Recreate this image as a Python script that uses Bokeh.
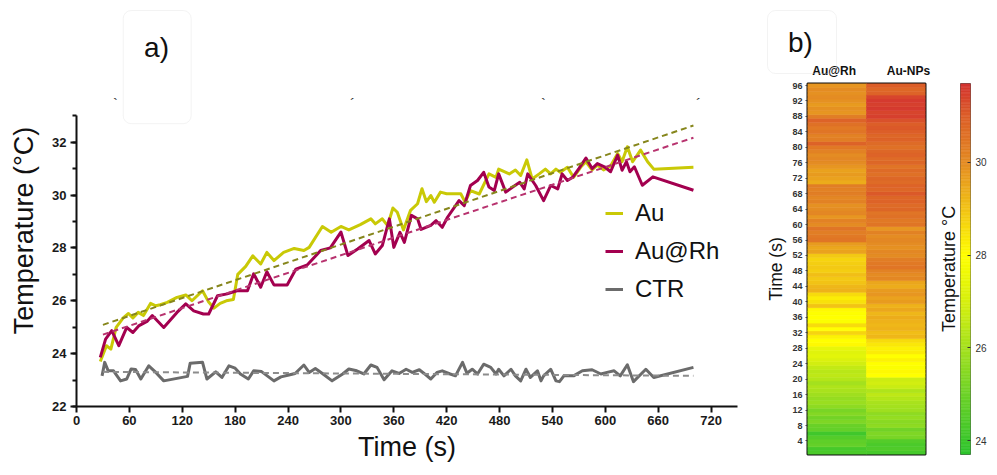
import numpy as np
from bokeh.plotting import figure
from bokeh.layouts import row, column
from bokeh.core.properties import value
from bokeh.models import (Range1d, SingleIntervalTicker, FixedTicker, Legend, LegendItem,
                          LinearColorMapper, LinearAxis, ColumnDataSource, BoxAnnotation)
from bokeh.embed import file_html
from bokeh.resources import INLINE

FONT = "Liberation Sans"

# ---------------- panel a) data (time s, temperature degC) ----------------
t_au = [27, 34, 39, 45, 53, 59, 64, 70, 76, 84, 90, 95, 103, 114, 124, 131, 143, 150, 156, 163,
        170, 178, 183, 192, 200, 209, 216, 224, 235, 247, 258, 264, 279, 289, 300, 309, 322, 334,
        339, 347, 353, 359, 364, 371, 379, 387, 392, 397, 402, 406, 413, 420, 430, 436, 441, 447,
        457, 468, 476, 479, 491, 498, 504, 511, 517, 525, 532, 538, 544, 549, 557, 564, 572, 578,
        585, 591, 598, 606, 614, 619, 625, 631, 640, 648, 655, 700]
T_au = [23.70, 24.30, 24.17, 24.99, 25.35, 25.52, 25.35, 25.56, 25.44, 25.90, 25.81, 25.85, 25.94,
        26.13, 26.22, 26.00, 26.38, 25.95, 25.72, 25.90, 26.00, 26.05, 27.00, 27.30, 27.70, 27.39,
        27.83, 27.52, 27.83, 27.98, 27.90, 28.02, 28.81, 28.59, 28.81, 28.68, 28.88, 29.10, 28.91,
        29.10, 28.84, 29.51, 29.35, 28.68, 29.42, 29.67, 30.24, 29.75, 29.98, 29.73, 30.11, 30.05,
        30.05, 30.05, 29.73, 30.17, 30.04, 30.80, 30.67, 30.98, 30.80, 30.95, 30.74, 31.33, 30.61,
        30.80, 30.98, 30.80, 30.98, 30.86, 31.05, 30.67, 31.05, 31.26, 30.95, 31.13, 30.95, 31.10,
        31.57, 31.26, 31.83, 31.26, 31.70, 31.26, 30.98, 31.05]

t_rh = [27, 33, 40, 48, 57, 64, 71, 80, 86, 99, 114, 124, 133, 144, 150, 160, 171, 182, 194, 201,
        209, 216, 224, 239, 249, 262, 277, 288, 300, 308, 319, 332, 339, 347, 355, 360, 367, 372,
        380, 387, 391, 402, 408, 415, 421, 434, 440, 447, 455, 462, 468, 474, 479, 487, 495, 503,
        508, 512, 521, 530, 538, 546, 551, 557, 563, 570, 578, 585, 591, 599, 606, 614, 619, 624,
        628, 633, 642, 654, 700]
T_rh = [23.86, 24.55, 24.87, 24.30, 24.99, 24.80, 25.06, 25.22, 25.44, 24.99, 25.56, 25.88, 25.62,
        25.50, 25.50, 26.19, 26.26, 26.38, 26.38, 27.02, 26.51, 27.10, 26.60, 26.60, 27.20, 27.36,
        27.90, 28.00, 28.60, 27.71, 27.96, 28.28, 27.77, 28.09, 29.10, 28.02, 28.59, 28.21, 29.23,
        29.10, 28.70, 28.85, 29.03, 28.78, 29.16, 29.79, 29.60, 30.36, 30.55, 30.86, 30.30, 30.17,
        30.80, 30.11, 30.30, 30.48, 30.23, 30.80, 30.36, 29.79, 30.36, 30.23, 30.80, 30.55, 30.67,
        31.00, 31.40, 31.00, 31.19, 31.07, 30.88, 31.51, 30.94, 31.26, 30.88, 31.07, 30.37, 30.69,
        30.18]

t_ctr = [29, 32, 36, 42, 50, 57, 62, 67, 73, 82, 90, 99, 126, 129, 143, 148, 158, 165, 173, 180,
         186, 195, 201, 210, 224, 232, 241, 248, 258, 264, 271, 279, 290, 302, 309, 318, 326, 334,
         341, 349, 358, 366, 374, 381, 389, 394, 402, 409, 415, 424, 430, 438, 443, 449, 455, 462,
         470, 476, 479, 485, 493, 498, 504, 510, 515, 523, 527, 530, 538, 544, 548, 553, 564, 574,
         585, 595, 602, 610, 617, 625, 632, 646, 655, 700]
T_ctr = [23.16, 23.67, 23.35, 23.35, 22.97, 23.04, 23.42, 23.40, 23.04, 23.54, 23.29, 22.97, 23.14,
         23.64, 23.67, 23.04, 23.31, 23.10, 23.54, 23.45, 23.23, 23.04, 23.35, 23.32, 22.97, 23.12,
         23.19, 23.25, 23.57, 23.29, 23.44, 23.25, 22.97, 23.23, 23.42, 23.35, 23.23, 23.57, 23.48,
         23.01, 23.35, 23.25, 23.41, 23.29, 23.39, 23.26, 23.04, 23.29, 23.35, 23.23, 23.16, 23.67,
         23.26, 23.41, 23.23, 23.60, 23.48, 23.23, 23.41, 23.16, 23.41, 23.16, 22.97, 23.41, 23.10,
         23.35, 22.97, 23.16, 23.41, 22.97, 22.94, 23.16, 23.16, 23.35, 23.39, 23.23, 23.29, 23.35,
         23.16, 23.58, 22.94, 23.41, 23.10, 23.48]

# linear-fit lines (endpoints)
fit_t = [30, 700]
fit_au = [25.09, 32.63]
fit_rh = [24.72, 32.17]
fit_ctr = [23.31, 23.16]

x_ticks_step = 60
y_ticks_step = 2

# ---------------- panel b) heat-map data ----------------
heat_rows = list(range(1, 97))
heat_cols = ["Au@Rh", "Au-NPs"]
heat_aurh = [24.3, 24.2, 24.8, 24.7, 24.5, 24.1, 24.8, 24.9, 25.3, 25.1,
             25.4, 25.2, 25.6, 25.8, 25.7, 25.9, 26.1, 26.2, 26.0, 26.3,
             26.5, 26.4, 26.6, 26.9, 27.1, 27.3, 27.2, 27.4, 28.1, 28.0,
             28.2, 28.7, 28.0, 28.6, 27.9, 28.0, 27.95, 28.1, 29.0, 28.5,
             28.3, 28.6, 29.3, 29.2, 29.0, 28.9, 29.1, 28.8, 28.9, 28.8,
             28.7, 28.9, 29.6, 29.5, 29.7, 30.5, 30.4, 30.3, 30.5, 30.0,
             30.2, 29.8, 30.1, 30.0, 29.9, 30.2, 30.1, 30.3, 30.2, 30.3,
             29.4, 29.6, 29.7, 29.6, 29.8, 30.0, 30.1, 30.0, 30.2, 30.4,
             30.9, 30.3, 30.2, 30.5, 30.4, 30.6, 30.9, 30.3, 29.8, 29.9,
             29.7, 29.9, 30.0, 29.9, 30.0, 29.8]
heat_aunp = [24.2, 24.4, 24.3, 24.5, 25.2, 25.3, 25.1, 25.6, 25.5, 25.7,
             25.6, 25.9, 26.0, 26.1, 26.3, 26.5, 26.2, 26.7, 26.9, 26.8,
             28.0, 28.1, 27.9, 28.0, 28.2, 28.0, 28.3, 28.2, 28.4, 28.6,
             29.2, 29.1, 29.3, 29.2, 29.3, 29.4, 29.2, 29.5, 29.3, 29.7,
             29.6, 29.8, 29.7, 29.4, 29.5, 30.1, 30.0, 30.2, 30.5, 30.4,
             30.3, 30.0, 30.1, 29.9, 30.0, 30.1, 30.0, 30.2, 29.8, 30.5,
             30.4, 30.6, 30.5, 30.8, 30.7, 30.9, 30.8, 31.1, 30.8, 30.9,
             30.7, 30.8, 30.6, 30.7, 30.5, 30.8, 30.7, 30.9, 30.8, 30.6,
             30.7, 30.9, 30.8, 31.0, 31.1, 31.0, 31.2, 31.5, 31.4, 31.6,
             31.5, 31.6, 31.4, 30.9, 30.8, 31.0]
cbar_low, cbar_high = 23.7, 31.7
cbar_ticks = [24, 26, 28, 30]
heat_ticks_step = 4

# ---------------- colour map (green-yellow-orange-red) ----------------
anchors_v = [23.7, 25.0, 26.0, 27.0, 28.0, 29.0, 30.0, 31.0, 31.7]
anchors_c = [(45, 195, 45), (110, 210, 40), (165, 225, 30), (215, 240, 15), (255, 255, 0),
             (242, 195, 22), (228, 140, 35), (220, 95, 40), (212, 52, 48)]
vals = np.linspace(cbar_low, cbar_high, 256)
palette = []
for v in vals:
    r = np.interp(v, anchors_v, [c[0] for c in anchors_c])
    g = np.interp(v, anchors_v, [c[1] for c in anchors_c])
    b = np.interp(v, anchors_v, [c[2] for c in anchors_c])
    palette.append("#%02x%02x%02x" % (int(round(r)), int(round(g)), int(round(b))))
mapper = LinearColorMapper(palette=palette, low=cbar_low, high=cbar_high)

H = 467  # common height of the layout (page origin is the top-left corner)


def bare(fig):
    fig.grid.visible = False
    fig.outline_line_color = None
    fig.background_fill_color = "white"
    fig.border_fill_color = "white"
    return fig


# ======================= y-label strip for panel a =======================
pL = bare(figure(width=44, height=H, output_backend="svg", toolbar_location=None,
                 x_range=Range1d(0, 44), y_range=Range1d(0, H),
                 x_axis_location=None, y_axis_location=None, frame_align=False,
                 min_border_left=0, min_border_right=0, min_border_top=0, min_border_bottom=0))
pL.text(x=[23.5], y=[H - 230], text=["Temperature (°C)"], angle=np.pi / 2,
        text_font=value(FONT), text_font_size="27px", text_color="#111111",
        text_align="center", text_baseline="middle")

# ======================= figure a =======================
Y_TOP = 37.36
pA = bare(figure(width=716, height=H, output_backend="svg", toolbar_location=None,
                 x_range=Range1d(0, 750), y_range=Range1d(22, Y_TOP), frame_align=False,
                 min_border_left=32, min_border_right=23, min_border_top=0, min_border_bottom=61))

C_AU, C_RH, C_CTR = "#c9c906", "#a3004f", "#6b6b6b"
r_au = pA.line(t_au, T_au, line_color=C_AU, line_width=3, line_join="round")
r_rh = pA.line(t_rh, T_rh, line_color=C_RH, line_width=3, line_join="round")
r_ctr = pA.line(t_ctr, T_ctr, line_color=C_CTR, line_width=3, line_join="round")
pA.line(fit_t, fit_au, line_color="#86861c", line_width=2, line_dash="6 4")
pA.line(fit_t, fit_rh, line_color="#b8336f", line_width=2, line_dash="6 4")
pA.line(fit_t, fit_ctr, line_color="#8c8c8c", line_width=2, line_dash="6 4")

pA.xaxis.ticker = SingleIntervalTicker(interval=x_ticks_step, num_minor_ticks=0)
pA.yaxis.ticker = SingleIntervalTicker(interval=y_ticks_step, num_minor_ticks=2)
pA.yaxis.bounds = (22, 33)
for ax in (pA.xaxis[0], pA.yaxis[0]):
    ax.axis_line_width = 2
    ax.axis_line_color = "#111111"
    ax.major_tick_line_width = 2
    ax.minor_tick_line_width = 2
    ax.major_tick_line_color = "#111111"
    ax.minor_tick_line_color = "#111111"
    ax.major_tick_in = 0
    ax.major_tick_out = 6
    ax.minor_tick_in = 0
    ax.minor_tick_out = 4
    ax.major_label_text_font = FONT
    ax.major_label_text_font_style = "bold"
    ax.major_label_text_font_size = "13px"
    ax.major_label_text_color = "#1a1a1a"
    ax.axis_label_text_font = FONT
    ax.axis_label_text_font_style = "normal"
    ax.axis_label_text_font_size = "27px"
    ax.axis_label_text_color = "#111111"
pA.xaxis.axis_label = "Time (s)"
pA.xaxis.major_label_standoff = 3
pA.yaxis.major_label_standoff = 4
pA.xaxis.axis_label_standoff = 4

legend = Legend(items=[LegendItem(label="Au", renderers=[r_au]),
                       LegendItem(label="Au@Rh", renderers=[r_rh]),
                       LegendItem(label="CTR", renderers=[r_ctr])],
                location=(529, 102), padding=0, margin=0, spacing=8,
                label_height=30, glyph_height=30, glyph_width=18, label_standoff=12,
                label_text_font=FONT, label_text_font_size="24px", label_text_color="#111111",
                border_line_color=None, background_fill_alpha=0)
pA.add_layout(legend)

# panel label "a)" in its rounded box, plus the small stray marks above the plot
pA.add_layout(BoxAnnotation(left=53.0, right=130.1, bottom=32.70, top=36.98,
                            fill_alpha=0, line_color="#d6d6d6", line_width=1,
                            border_radius=8))
pA.text(x=[90.8], y=[35.57], text=["a)"], text_font=value(FONT), text_font_size="28px",
        text_color="#111111", text_align="center", text_baseline="middle")
pA.text(x=[44.3, 529.9], y=[33.46, 33.46], text=["`", "`"], text_font=value(FONT),
        text_font_size="15px", text_color="#333333", text_align="center", text_baseline="middle")
pA.text(x=[313.2, 705.8], y=[33.46, 33.46], text=["´", "´"], text_font=value(FONT),
        text_font_size="15px", text_color="#333333", text_align="center", text_baseline="middle")

# ======================= panel b header strip =======================
pT = bare(figure(width=175, height=82, output_backend="svg", toolbar_location=None,
                 x_range=Range1d(0, 175), y_range=Range1d(0, 82),
                 x_axis_location=None, y_axis_location=None, frame_align=False,
                 min_border_left=0, min_border_right=0, min_border_top=0, min_border_bottom=0))
pT.add_layout(BoxAnnotation(left=7, right=76, bottom=9, top=72, fill_alpha=0,
                            line_color="#d6d6d6", line_width=1, border_radius=8))
pT.text(x=[40], y=[40], text=["b)"], text_font=value(FONT), text_font_size="28px",
        text_color="#111111", text_align="center", text_baseline="middle")
pT.text(x=[73.7, 148], y=[12, 12], text=heat_cols, text_font=value(FONT),
        text_font_style="bold", text_font_size="12px", text_color="#111111",
        text_align="center", text_baseline="middle")

# ======================= figure b (heat map) =======================
pB = bare(figure(width=175, height=H - 82, output_backend="svg", toolbar_location=None,
                 x_range=Range1d(0, 2), y_range=Range1d(0.5, 96.5), x_axis_location=None,
                 frame_align=False,
                 min_border_left=47, min_border_right=10, min_border_top=1, min_border_bottom=13))
hx, hy, hv = [], [], []
for ci, colvals in enumerate([heat_aurh, heat_aunp]):
    for rr, vv in zip(heat_rows, colvals):
        hx.append(ci + 0.5)
        hy.append(rr)
        hv.append(vv)
src = ColumnDataSource(dict(x=hx, y=hy, v=hv))
pB.rect(x="x", y="y", width=1, height=1, source=src,
        fill_color={"field": "v", "transform": mapper},
        line_color={"field": "v", "transform": mapper}, line_width=0.6)
pB.outline_line_color = "#111111"
pB.outline_line_width = 2
ay = pB.yaxis[0]
ay.ticker = SingleIntervalTicker(interval=heat_ticks_step, num_minor_ticks=0)
ay.axis_line_color = None
ay.major_tick_in = 0
ay.major_tick_out = 2
ay.major_tick_line_color = "#444444"
ay.major_label_standoff = 3
ay.major_label_text_font = FONT
ay.major_label_text_font_style = "bold"
ay.major_label_text_font_size = "9px"
ay.major_label_text_color = "#333333"
ay.axis_label = "Time (s)"
ay.axis_label_text_font = FONT
ay.axis_label_text_font_style = "normal"
ay.axis_label_text_font_size = "17.5px"
ay.axis_label_text_color = "#111111"
ay.axis_label_standoff = 3

# ======================= figure c (colour bar) =======================
pC = bare(figure(width=54, height=H, output_backend="svg", toolbar_location=None,
                 x_range=Range1d(0, 1), y_range=Range1d(cbar_low, cbar_high),
                 x_axis_location=None, y_axis_location="right", frame_align=False,
                 min_border_left=22, min_border_right=17, min_border_top=83, min_border_bottom=13))
nstep = len(vals)
dv = (cbar_high - cbar_low) / nstep
cb_src = ColumnDataSource(dict(y=[cbar_low + (i + 0.5) * dv for i in range(nstep)],
                               v=list(vals)))
pC.rect(x=0.5, y="y", width=1, height=dv, source=cb_src,
        fill_color={"field": "v", "transform": mapper},
        line_color={"field": "v", "transform": mapper}, line_width=0.6)
pC.outline_line_color = "#555555"
pC.outline_line_width = 1
ar = pC.yaxis[0]
ar.ticker = FixedTicker(ticks=cbar_ticks)
ar.axis_line_color = None
ar.major_tick_in = 3
ar.major_tick_out = 0
ar.major_tick_line_color = "#333333"
ar.major_label_standoff = 5
ar.major_label_text_font = FONT
ar.major_label_text_font_size = "10px"
ar.major_label_text_color = "#333333"
al = LinearAxis(ticker=FixedTicker(ticks=[]), axis_line_color=None,
                major_tick_line_color=None, minor_tick_line_color=None,
                axis_label="Temperature °C", axis_label_text_font=FONT,
                axis_label_text_font_style="normal", axis_label_text_font_size="18px",
                axis_label_text_color="#111111", axis_label_standoff=2)
pC.add_layout(al, "left")

layout = row(pL, pA, column(pT, pB), pC)
open("out.html", "w").write(file_html(layout, INLINE))
